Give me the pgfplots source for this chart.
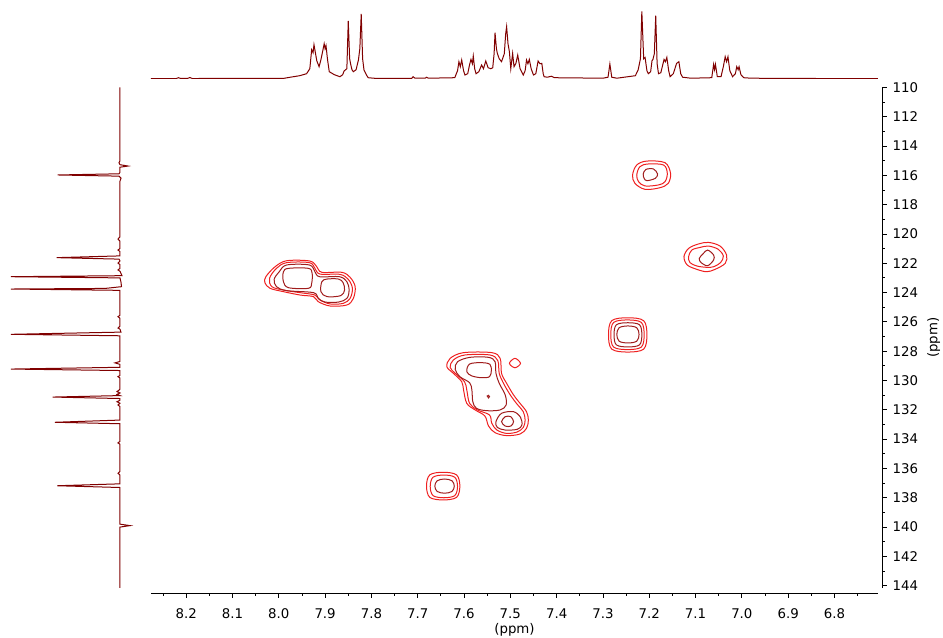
\documentclass[border=0pt]{standalone}
\usepackage{fontspec}
\setmainfont{DejaVu Sans}
\usepackage{pgfplots}
\pgfplotsset{compat=1.18}
\definecolor{spec}{RGB}{128,0,0}
\definecolor{lvA}{RGB}{238,32,32}
\definecolor{lvB}{RGB}{160,28,28}
\pgfplotsset{
  /pgf/number format/assume math mode=true,
  mainx/.style={scale only axis, width=545.25pt, xmin=6.706, xmax=8.276, x dir=reverse},
  mainy/.style={scale only axis, height=375.45pt, ymin=110, ymax=144.15, y dir=reverse},
  la/.style={color=lvA, line width=0.75pt, smooth cycle, tension=0.55},
  lb/.style={color=lvB, line width=0.75pt, smooth cycle, tension=0.55},
}
\begin{document}
\begin{tikzpicture}[font=\fontsize{10}{12}\selectfont]
\path[use as bounding box] (0,0) rectangle (707.25pt,-477.75pt);

% ---------- contours ----------
\begin{axis}[mainx, mainy, hide axis, at={(113.25pt,-65.475pt)}, anchor=north west]
% group A
\addplot[la] coordinates {(8.030,123.33) (8.028,122.92) (8.008,122.24) (7.983,121.83) (7.933,121.85) (7.918,122.24) (7.907,122.62) (7.864,122.62) (7.846,122.96) (7.835,123.60) (7.839,124.40) (7.853,124.85) (7.889,124.92) (7.915,124.62) (7.925,124.28) (7.954,124.17) (7.990,123.94) (8.019,123.71)};
\addplot[la] coordinates {(8.020,123.03) (8.005,122.35) (7.983,121.96) (7.934,121.96) (7.922,122.35) (7.911,122.74) (7.868,122.76) (7.850,123.10) (7.841,123.71) (7.846,124.40) (7.861,124.74) (7.889,124.78) (7.911,124.51) (7.922,124.17) (7.954,124.01) (7.990,123.83) (8.015,123.60)};
\addplot[lb] coordinates {(8.010,123.10) (7.999,122.58) (7.983,122.12) (7.934,122.12) (7.922,122.58) (7.912,122.92) (7.869,122.92) (7.853,123.26) (7.848,123.83) (7.853,124.40) (7.871,124.65) (7.900,124.65) (7.915,124.40) (7.925,124.01) (7.983,123.87) (8.005,123.60)};
\addplot[lb] coordinates {(7.990,122.58) (7.979,122.35) (7.936,122.35) (7.928,122.69) (7.929,123.37) (7.936,123.71) (7.979,123.67) (7.990,123.26)};
\addplot[lb] coordinates {(7.907,123.26) (7.896,123.08) (7.871,123.08) (7.861,123.33) (7.858,123.83) (7.866,124.21) (7.896,124.28) (7.909,123.94)};
% group B
\addplot[la] coordinates {(7.637,129.06) (7.630,128.49) (7.601,128.10) (7.540,128.10) (7.522,128.49) (7.519,129.51) (7.508,130.19) (7.493,130.99) (7.479,131.56) (7.465,132.13) (7.461,132.70) (7.465,133.26) (7.479,133.65) (7.508,133.76) (7.533,133.56) (7.547,133.11) (7.555,132.42) (7.576,132.01) (7.594,131.56) (7.601,130.65) (7.605,130.08) (7.623,129.51)};
\addplot[la] coordinates {(7.630,129.10) (7.623,128.60) (7.598,128.26) (7.544,128.26) (7.527,128.65) (7.524,129.51) (7.514,130.24) (7.499,131.04) (7.485,131.63) (7.472,132.13) (7.468,132.70) (7.472,133.20) (7.485,133.51) (7.508,133.61) (7.529,133.38) (7.540,132.92) (7.545,132.35) (7.571,132.01) (7.588,131.56) (7.594,130.65) (7.599,130.08) (7.619,129.51)};
\addplot[lb] coordinates {(7.619,129.24) (7.614,128.72) (7.587,128.42) (7.547,128.42) (7.533,128.72) (7.531,129.51) (7.524,130.19) (7.511,130.99) (7.509,131.67) (7.522,132.01) (7.551,132.06) (7.573,131.90) (7.581,131.45) (7.583,130.65) (7.588,130.15) (7.609,129.74)};
\addplot[lb] coordinates {(7.531,132.81) (7.519,132.24) (7.493,132.13) (7.478,132.51) (7.475,133.04) (7.485,133.33) (7.511,133.38) (7.528,133.20)};
\addplot[lb] coordinates {(7.594,129.40) (7.588,128.88) (7.562,128.78) (7.544,128.90) (7.541,129.33) (7.545,129.74) (7.562,129.81) (7.583,129.69)};
\addplot[lb] coordinates {(7.550,131.06) (7.547,131.01) (7.545,131.10) (7.547,131.19)};
\addplot[lb] coordinates {(7.519,132.81) (7.511,132.47) (7.499,132.47) (7.493,132.81) (7.499,133.11) (7.511,133.11)};
\addplot[la] coordinates {(7.502,128.83) (7.490,128.49) (7.478,128.83) (7.490,129.13)};
% group C
\addplot[la] coordinates {(7.236,115.98) (7.227,115.30) (7.205,115.03) (7.166,115.14) (7.154,115.87) (7.159,116.55) (7.177,116.85) (7.209,116.96) (7.231,116.55)};
\addplot[la] coordinates {(7.227,115.98) (7.220,115.41) (7.202,115.23) (7.169,115.30) (7.161,115.87) (7.166,116.44) (7.180,116.66) (7.209,116.73) (7.223,116.44)};
\addplot[lb] coordinates {(7.213,115.91) (7.207,115.60) (7.191,115.57) (7.182,115.91) (7.187,116.21) (7.205,116.37) (7.211,116.21)};
% group D
\addplot[la] coordinates {(7.125,121.55) (7.115,120.99) (7.094,120.69) (7.072,120.58) (7.047,120.83) (7.033,121.44) (7.036,122.01) (7.058,122.42) (7.076,122.58) (7.097,122.42) (7.118,122.12)};
\addplot[la] coordinates {(7.115,121.55) (7.108,121.10) (7.090,120.92) (7.072,120.83) (7.051,121.05) (7.040,121.51) (7.046,121.96) (7.061,122.24) (7.076,122.28) (7.097,122.19) (7.112,121.96)};
\addplot[lb] coordinates {(7.092,121.67) (7.083,121.33) (7.074,121.10) (7.061,121.44) (7.061,121.78) (7.074,122.17) (7.088,121.96)};
% group E
\addplot[la] coordinates {(7.288,126.89) (7.281,125.92) (7.2465,125.72) (7.212,125.92) (7.205,126.89) (7.212,127.86) (7.2465,128.06) (7.281,127.86)};
\addplot[la] coordinates {(7.283,126.88) (7.277,126.04) (7.247,125.87) (7.217,126.04) (7.211,126.88) (7.217,127.72) (7.247,127.89) (7.277,127.72)};
\addplot[lb] coordinates {(7.276,126.885) (7.271,126.20) (7.246,126.06) (7.221,126.20) (7.216,126.885) (7.221,127.57) (7.246,127.71) (7.271,127.57)};
\addplot[lb] coordinates {(7.270,126.86) (7.265,126.40) (7.246,126.28) (7.227,126.40) (7.222,126.86) (7.227,127.32) (7.246,127.44) (7.265,127.32)};
% group F
\addplot[la] coordinates {(7.681,137.205) (7.674,136.44) (7.645,136.26) (7.616,136.44) (7.609,137.205) (7.616,137.97) (7.645,138.15) (7.674,137.97)};
\addplot[la] coordinates {(7.673,137.225) (7.667,136.60) (7.6435,136.45) (7.620,136.60) (7.614,137.225) (7.620,137.85) (7.6435,138.0) (7.667,137.85)};
\addplot[lb] coordinates {(7.663,137.205) (7.658,136.84) (7.642,136.72) (7.626,136.84) (7.621,137.205) (7.626,137.57) (7.642,137.69) (7.658,137.57)};
\end{axis}

% ---------- top 1H projection ----------
\begin{axis}[mainx, hide axis, scale only axis, height=54pt, ymin=0, ymax=72, at={(113.25pt,-59.025pt)}, anchor=south west]
\addplot[spec, line width=0.75pt] coordinates {
(8.276,0) (8.222,0) (8.217,1) (8.212,0.3) (8.197,0.3) (8.192,1.2) (8.187,0.2)
(7.990,0.3) (7.975,1.5) (7.955,3) (7.940,5) (7.933,10) (7.929,29) (7.926,26) (7.924,34) (7.918,18) (7.913,12) (7.909,19) (7.905,28) (7.902,35) (7.900,30) (7.898,33) (7.895,20) (7.891,7) (7.880,4) (7.868,2) (7.862,4)
(7.859,7.7) (7.853,10) (7.850,57.7) (7.847,20) (7.845,15) (7.842,9) (7.839,7) (7.833,9) (7.830,15) (7.828,18.7) (7.825,30) (7.822,64.7) (7.819,20) (7.816,8.7) (7.811,4) (7.807,1) (7.790,0.3)
(7.713,0.3) (7.710,2) (7.706,0.5) (7.695,0.5) (7.684,0.5) (7.681,1.5) (7.677,0.5)
(7.620,1) (7.614,8) (7.611,17) (7.608,12) (7.605,18.7) (7.601,8) (7.598,3.7) (7.592,5) (7.588,14) (7.585,19.3) (7.582,15) (7.580,22.7) (7.577,10) (7.574,5) (7.568,7) (7.562,13.7) (7.558,10) (7.553,17.7) (7.548,11) (7.542,10) (7.538,11) (7.535,25) (7.533,46) (7.530,30) (7.528,25.3) (7.524,20) (7.519,17) (7.513,25) (7.510,45) (7.508,52) (7.505,35) (7.502,27) (7.499,10) (7.495,25.3) (7.492,12) (7.488,15.3) (7.484,23.7) (7.479,10) (7.472,3.7) (7.468,8) (7.465,18.7) (7.462,15) (7.459,19.3) (7.455,10) (7.450,3.7) (7.445,5) (7.440,17.7) (7.436,15) (7.432,15.3) (7.429,5) (7.427,2) (7.420,1.5) (7.411,2.5) (7.405,1)
(7.300,0.5) (7.289,1.5) (7.285,14.7) (7.281,1.5) (7.270,0.5)
(7.230,3) (7.224,8.7) (7.219,20) (7.216,67.3) (7.212,20) (7.209,21.3) (7.205,8) (7.202,5) (7.197,7) (7.194,18) (7.192,19.3) (7.189,25) (7.186,63) (7.183,15) (7.180,5) (7.175,6) (7.168,19.3) (7.165,17) (7.162,21.3) (7.158,8) (7.155,2) (7.148,5) (7.141,15.3) (7.136,17) (7.132,5) (7.128,1.5) (7.110,0.5)
(7.065,1) (7.061,14.3) (7.059,9) (7.057,14.3) (7.053,2) (7.045,2) (7.040,12) (7.036,22) (7.033,17) (7.030,22) (7.026,8) (7.020,2) (7.014,5) (7.011,12) (7.008,9) (7.006,12) (7.002,4) (6.996,1) (6.980,0.5) (6.900,0.3) (6.706,0)
};
\end{axis}

% ---------- left 13C projection ----------
\begin{axis}[mainy, hide axis, scale only axis, width=97.5pt, xmin=-15, xmax=115, x dir=reverse, at={(3.75pt,-65.475pt)}, anchor=north west]
\addplot[spec, line width=0.75pt] coordinates {
(0,110) (0,115.0) (1,115.15) (0,115.28) (-8,115.37) (0,115.45) (0,115.8) (1,115.9) (62.3,115.98) (1,116.06) (-1,116.2) (0,116.4)
(0,120.2) (2,120.35) (0,120.5) (0,121.0) (2,121.1) (0,121.2) (0,121.5) (63.3,121.62) (1,121.72) (0,121.85) (2,121.99) (0,122.1) (0,122.35) (2,122.46) (0,122.55) (-1,122.7) (-2,122.85) (109,122.92) (0,123.0) (-1,123.3) (-1.5,123.6) (15,123.72) (109,123.76) (0,123.85)
(0,125.55) (2,125.65) (0,125.75) (0,126.3) (2,126.42) (0,126.5) (-1,126.7) (109,126.85) (0,126.95)
(0,128.7) (5,128.8) (0,128.9) (0,129.1) (109,129.22) (0,129.32) (0,129.65) (2,129.74) (0,129.83) (0,130.6) (3,130.76) (0,130.85) (3,130.95) (0,131.03) (67.3,131.13) (0,131.23) (0,131.35) (3,131.45) (0,131.55) (2,131.67) (0,131.78)
(0,132.7) (65,132.85) (0,132.95) (0,134.15) (2,134.26) (0,134.35) (0,136.2) (2,136.33) (0,136.45) (0,137.05) (62.7,137.18) (0,137.3) (0,139.8) (-10,139.9) (0,140.0) (0,144.15)
};
\end{axis}

% ---------- bottom x axis ----------
\begin{axis}[mainx, hide y axis, axis x line=bottom, axis line style={-, black, line width=0.75pt},
  ymin=0, ymax=1, height=1pt, at={(113.25pt,-444.75pt)}, anchor=south west,
  xtick={6.8,6.9,7.0,7.1,7.2,7.3,7.4,7.5,7.6,7.7,7.8,7.9,8.0,8.1,8.2},
  minor xtick={6.75,6.85,6.95,7.05,7.15,7.25,7.35,7.45,7.55,7.65,7.75,7.85,7.95,8.05,8.15,8.25},
  xticklabel style={yshift=-4.5pt, /pgf/number format/.cd, fixed, fixed zerofill, precision=1},
  tick align=outside, major tick length=3.5pt, minor tick length=2pt,
  tick style={black, line width=0.6pt},
  xlabel={(ppm)}, xlabel style={yshift=3pt}]
\addplot[draw=none] coordinates {(7.5,0.5)};
\end{axis}

% ---------- right y axis ----------
\begin{axis}[mainy, hide x axis, axis y line=right, axis line style={-, black, line width=0.75pt},
  xmin=0, xmax=1, width=1pt, at={(661.5pt,-65.475pt)}, anchor=north east,
  ytick={110,112,...,144},
  minor ytick={111,113,...,143},
  yticklabel style={xshift=1pt},
  tick align=outside, major tick length=3.5pt, minor tick length=2pt,
  tick style={black, line width=0.6pt},
  ylabel={(ppm)}]
\addplot[draw=none] coordinates {(0.5,120)};
\end{axis}
\end{tikzpicture}
\end{document}
